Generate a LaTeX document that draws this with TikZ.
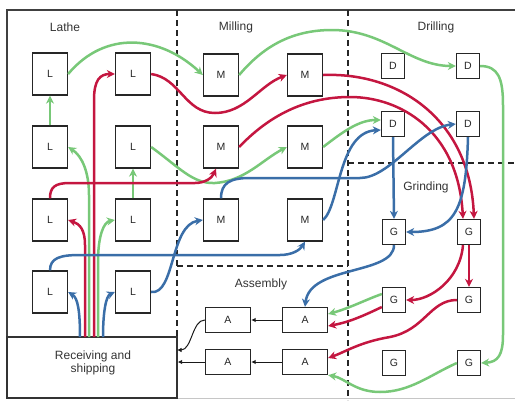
\documentclass[tikz,border=0pt]{standalone}
\usepackage{fontspec}
\setmainfont{Liberation Sans}
\usetikzlibrary{arrows.meta,calc}
\definecolor{cg}{HTML}{78C878}
\definecolor{cr}{HTML}{C41640}
\definecolor{cb}{HTML}{3A6EA8}
\begin{document}
\begin{tikzpicture}[x=1pt,y=-1pt,
  box/.style={draw=black!85, line width=1.3pt, fill=white, inner sep=0pt, font=\fontsize{10.5}{12}\selectfont, text=black!85},
  big/.style={box, minimum width=35pt, minimum height=42pt},
  small/.style={box, minimum width=23pt, minimum height=25pt},
  abox/.style={box, minimum width=45pt, minimum height=25pt},
  lab/.style={font=\fontsize{12}{13.5}\selectfont, text=black!80, inner sep=1pt},
  frame/.style={draw=black!75, line width=1.3pt},
  zone/.style={draw=black!85, line width=1.3pt, dash pattern=on 6pt off 4pt},
  flow/.style={line width=2.5pt, -{Stealth[length=8pt,width=8pt,inset=2.5pt]}},
  fg/.style={flow, draw=cg},
  fr/.style={flow, draw=cr},
  fb/.style={flow, draw=cb},
  blk/.style={draw=black!90, line width=1pt, -{Latex[length=4.5pt,width=4.5pt]}}
]
\useasboundingbox (0,0) rectangle (515,400);
% frame and zones
\draw[frame] (515,10) -- (7,10) -- (7,398);
\draw[gray!45, line width=0.6pt] (7,398) -- (515,398);
\draw[zone] (177,10) -- (177,337);
\draw[zone] (348,10) -- (348,400);
\draw[zone] (348,163) -- (515,163);
\draw[zone] (177,266) -- (348,266);
% receiving
\node[draw=black!80, line width=1.3pt, minimum width=170pt, minimum height=61pt, inner sep=0pt] (rec) at (92,367.5) {};
\node[lab, align=center] (rectext) at (93,363) {Receiving and\\shipping};
% labels
\node[lab] (tl) at (65,27) {Lathe};
\node[lab] (tm) at (236,27) {Milling};
\node[lab] (td) at (436,27) {Drilling};
\node[lab] (tg) at (426,187) {Grinding};
\node[lab] (ta) at (261,284) {Assembly};
% lathe
\node[big] (L11) at (50,74) {L};
\node[big] (L12) at (133,74) {L};
\node[big] (L21) at (50,147) {L};
\node[big] (L22) at (133,147) {L};
\node[big] (L31) at (50,220) {L};
\node[big] (L32) at (133,220) {L};
\node[big] (L41) at (50,292) {L};
\node[big] (L42) at (133,292) {L};
% milling
\node[big] (M11) at (221,75) {M};
\node[big] (M12) at (305,75) {M};
\node[big] (M21) at (221,147) {M};
\node[big] (M22) at (305,147) {M};
\node[big] (M31) at (221,220) {M};
\node[big] (M32) at (305,220) {M};
% drilling
\node[small] (D11) at (393,66) {D};
\node[small] (D12) at (468,66) {D};
\node[small] (D21) at (393,124) {D};
\node[small] (D22) at (468,124) {D};
% grinding
\node[small] (G11) at (394,232) {G};
\node[small] (G12) at (469,232) {G};
\node[small] (G21) at (394,300) {G};
\node[small] (G22) at (469,300) {G};
\node[small] (G31) at (394,363) {G};
\node[small] (G32) at (469,363) {G};
% assembly
\node[abox] (A11) at (228,320) {A};
\node[abox] (A12) at (305,320) {A};
\node[abox] (A21) at (228,362) {A};
\node[abox] (A22) at (305,362) {A};
% start points on receiving
\coordinate (s1) at (80,337);
\coordinate (s2) at (85,337);
\coordinate (s3) at (89,337);
\coordinate (s4) at (94,337);
\coordinate (s5) at (98,337);
\coordinate (s6) at (103,337);
\coordinate (k1) at (177,350);
% green flows
\draw[fg] (L11.east) .. controls (105,30) and (160,35) .. (M11.west);
\draw[fg] (M11.east) .. controls (262,48) and (290,30) .. (332,30) .. controls (385,30) and (410,66) .. (D12.west);
\draw[fg] (D12.east) .. controls (498,66) and (503,78) .. (503,105) -- (503,335) .. controls (503,355) and (498,362) .. (G32.east);
\draw[fg] (G32.west) .. controls (430,375) and (410,392) .. (380,392) .. controls (355,392) and (345,378) .. (A22.south east);
\draw[fg] (s3) -- (89,195) .. controls (89,172) and (82,156) .. (L21.east);
\draw[fg] (L21.north) -- (L11.south);
\draw[fg] (s5) -- (98,262) .. controls (98,235) and (104,222) .. (L32.west);
\draw[fg] (L32.north) -- (L22.south);
\draw[fg] (L22.east) .. controls (180,168) and (193,184) .. (215,183) .. controls (245,181) and (262,160) .. (M22.west);
\draw[fg] (M22.east) .. controls (345,130) and (360,120) .. ($(D21.west)+(0,-4)$);
\draw[fg] ($(G21.west)+(0,-6)$) .. controls (365,300) and (350,308) .. ($(A12.east)+(0,-6)$);
% red flows
\draw[fr] (s4) -- (94,100) .. controls (94,80) and (100,74) .. (L12.west);
\draw[fr] (L12.east) .. controls (180,78) and (185,113) .. (215,113) .. controls (245,113) and (260,85) .. (M12.west);
\draw[fr] (M12.east) .. controls (400,72) and (470,120) .. ($(G12.north)+(5,0)$);
\draw[fr] (M21.east) .. controls (265,120) and (300,97) .. (350,97) .. controls (400,97) and (458,130) .. ($(G12.north)+(-6,0)$);
\draw[fr] (s2) -- (85,245) .. controls (85,230) and (80,224) .. (L31.east);
\draw[fr] (L31.north) .. controls (50,187) and (55,183) .. (70,183) -- (195,183) .. controls (205,183) and (212,178) .. ($(M21.south)+(-5,0)$);
\draw[fr] (G12.south) -- (G22.north);
\draw[fr] ($(G12.south)+(-6,0)$) .. controls (460,280) and (430,300) .. (G21.east);
\draw[fr] ($(G21.west)+(0,7)$) .. controls (365,315) and (350,322) .. ($(A12.east)+(0,6)$);
\draw[fr] (G22.west) .. controls (430,300) and (425,330) .. (390,337) .. controls (360,342) and (345,352) .. ($(A22.east)+(0,-4)$);
% blue flows
\draw[fb] (s1) .. controls (80,312) and (78,298) .. (L41.east);
\draw[fb] (s6) .. controls (103,312) and (106,296) .. (L42.west);
\draw[fb] (L41.north) .. controls (50,258) and (60,255) .. (80,255) -- (280,255) .. controls (292,255) and (300,250) .. (M32.south);
\draw[fb] (L42.east) .. controls (175,295) and (170,225) .. (M31.west);
\draw[fb] (M31.north) .. controls (221,183) and (230,178) .. (250,178) -- (360,178) .. controls (390,178) and (420,128) .. (D22.west);
\draw[fb] (M32.east) .. controls (340,205) and (338,132) .. ($(D21.west)+(0,6)$);
\draw[fb] (D21.south) -- (G11.north);
\draw[fb] (D22.south) .. controls (466,210) and (455,232) .. (G11.east);
\draw[fb] (G11.south) .. controls (394,275) and (310,265) .. (A12.north);
% black flows
\draw[blk] (A12.west) -- (A11.east);
\draw[blk] (A22.west) -- (A21.east);
\draw[blk] (A11.west) .. controls (192,320) and (192,350) .. (k1);
\draw[blk] (A21.west) -- (A21.west -| rec.east);
\end{tikzpicture}
\end{document}
